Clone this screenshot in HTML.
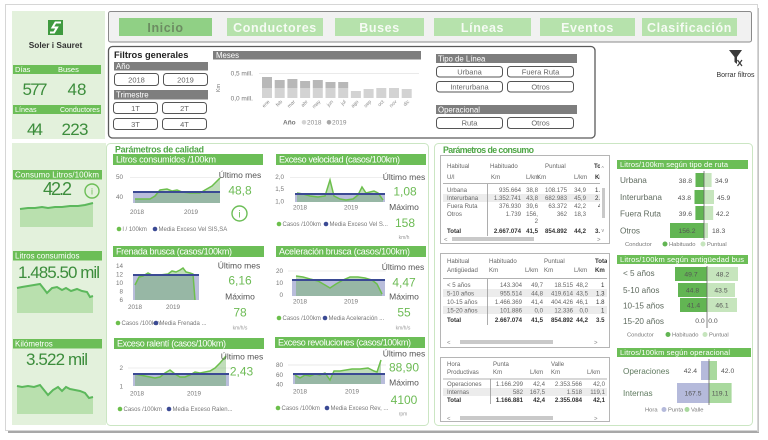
<!DOCTYPE html>
<html><head><meta charset="utf-8"><style>html,body{margin:0;padding:0;background:#fff}svg{display:block}</style></head>
<body>
<svg width="768" height="440" viewBox="0 0 768 440" xmlns="http://www.w3.org/2000/svg" font-family="'Liberation Sans', Arial, sans-serif">
<rect width="768" height="440" fill="#fff"/>
<!-- outer frame -->
<rect x="8" y="430" width="751" height="3" fill="#a8a8a8"/>
<rect x="757" y="8" width="2" height="424" fill="#c4c4c4"/>
<rect x="5.5" y="4.5" width="752" height="426" fill="#fff" stroke="#d6d6d6"/>

<!-- left top panel -->
<rect x="12" y="11" width="93" height="128" fill="#e3f1dc"/>
<rect x="48" y="20" width="15" height="15" fill="#3f9a3f"/>
<path d="M61,22.5 H55.5 L52.5,27.5 H57 L54,32.5 H50" fill="none" stroke="#fff" stroke-width="2"/>
<text x="55.5" y="48" font-size="8.3" font-weight="bold" fill="#333" text-anchor="middle">Soler i Sauret</text>
<rect x="13" y="65" width="88" height="9" fill="#6cbe57"/>
<text x="15" y="72" font-size="7.5" fill="#fff">Días</text>
<text x="58" y="72" font-size="7.5" fill="#fff">Buses</text>
<text x="35" y="95" font-size="17" fill="#3c8d3c" text-anchor="middle" textLength="25">577</text>
<text x="77" y="95" font-size="17" fill="#3c8d3c" text-anchor="middle" textLength="19">48</text>
<rect x="13" y="105" width="88" height="9" fill="#6cbe57"/>
<text x="15" y="112" font-size="7.2" fill="#fff">Líneas</text>
<text x="60" y="112" font-size="7" fill="#fff">Conductores</text>
<text x="35" y="135" font-size="17" fill="#3c8d3c" text-anchor="middle" textLength="16">44</text>
<text x="75" y="135" font-size="17" fill="#3c8d3c" text-anchor="middle" textLength="27">223</text>

<!-- nav -->
<rect x="108.5" y="11.5" width="643" height="30.5" rx="2" fill="#f1f1f1" stroke="#8a8a8a"/>
<g font-size="12.5" font-weight="bold" text-anchor="middle" letter-spacing="0.6">
<rect x="119" y="18" width="93" height="18" fill="#90d085"/>
<text x="165.5" y="32" fill="#6c8c62">Inicio</text>
<rect x="227" y="18" width="96" height="18" fill="#b6e2ac"/>
<text x="275" y="32" fill="#f6fbf4">Conductores</text>
<rect x="335" y="18" width="89" height="18" fill="#b6e2ac"/>
<text x="379.5" y="32" fill="#f6fbf4">Buses</text>
<rect x="434" y="18" width="97" height="18" fill="#b6e2ac"/>
<text x="482.5" y="32" fill="#f6fbf4">Líneas</text>
<rect x="540" y="18" width="95" height="18" fill="#b6e2ac"/>
<text x="587.5" y="32" fill="#f6fbf4">Eventos</text>
<rect x="642" y="18" width="95" height="18" fill="#b6e2ac"/>
<text x="689.5" y="32" fill="#f6fbf4">Clasificación</text>
</g>

<!-- filters box -->
<rect x="108.5" y="46.5" width="486.5" height="91.5" rx="4" fill="#fff" stroke="#5a5a5a" stroke-width="1.3"/>
<text x="114" y="58" font-size="9.3" font-weight="bold" fill="#222">Filtros generales</text>
<rect x="114" y="62" width="94" height="8.5" fill="#7e7e7e"/>
<text x="116" y="69" font-size="7.8" fill="#fff">Año</text>
<g fill="#fff" stroke="#555" stroke-width="1">
<rect x="114.5" y="73.5" width="44" height="12" rx="3"/>
<rect x="163.5" y="73.5" width="44" height="12" rx="3"/>
<rect x="113.5" y="102.5" width="44" height="11" rx="3"/>
<rect x="162.5" y="102.5" width="44" height="11" rx="3"/>
<rect x="113.5" y="118.5" width="44" height="11" rx="3"/>
<rect x="162.5" y="118.5" width="44" height="11" rx="3"/>
</g>
<rect x="114" y="90" width="94" height="9.5" fill="#7e7e7e"/>
<text x="116" y="97.5" font-size="7.8" fill="#fff">Trimestre</text>
<g font-size="7.5" fill="#666" text-anchor="middle">
<text x="136.5" y="82.5">2018</text><text x="185.5" y="82.5">2019</text>
<text x="135.5" y="111">1T</text><text x="184.5" y="111">2T</text>
<text x="135.5" y="127">3T</text><text x="184.5" y="127">4T</text>
</g>
<!-- meses chart -->
<rect x="213" y="51" width="208" height="8.5" fill="#7e7e7e"/>
<text x="216" y="58" font-size="7.8" fill="#fff">Meses</text>
<text x="253" y="75.5" font-size="6.5" fill="#777" text-anchor="end">0,5 mill.</text>
<text x="253" y="100.5" font-size="6.5" fill="#777" text-anchor="end">0,0 mill.</text>
<text x="220" y="88" font-size="5.5" fill="#777" transform="rotate(-90 220 88)" text-anchor="middle">Km</text>
<line x1="259" y1="73.5" x2="419" y2="73.5" stroke="#eaeaea"/>
<g>
<rect x="262" y="77" width="10" height="11" fill="#b8b8b8"/><rect x="262" y="88" width="10" height="10" fill="#d3d3d3"/>
<rect x="274.7" y="80" width="10" height="8" fill="#b8b8b8"/><rect x="274.7" y="88" width="10" height="10" fill="#d3d3d3"/>
<rect x="287.4" y="79" width="10" height="9" fill="#b8b8b8"/><rect x="287.4" y="88" width="10" height="10" fill="#d3d3d3"/>
<rect x="300.1" y="81" width="10" height="7" fill="#b8b8b8"/><rect x="300.1" y="88" width="10" height="10" fill="#d3d3d3"/>
<rect x="312.8" y="80" width="10" height="8" fill="#b8b8b8"/><rect x="312.8" y="88" width="10" height="10" fill="#d3d3d3"/>
<rect x="325.5" y="82" width="10" height="6" fill="#b8b8b8"/><rect x="325.5" y="88" width="10" height="10" fill="#d3d3d3"/>
<rect x="338.2" y="82" width="10" height="6" fill="#b8b8b8"/><rect x="338.2" y="88" width="10" height="10" fill="#d3d3d3"/>
<rect x="350.9" y="91" width="10" height="7" fill="#d3d3d3"/>
<rect x="363.6" y="89" width="10" height="9" fill="#d3d3d3"/>
<rect x="376.3" y="88" width="10" height="10" fill="#d3d3d3"/>
<rect x="389" y="88" width="10" height="10" fill="#d3d3d3"/>
<rect x="401.7" y="89" width="10" height="9" fill="#d3d3d3"/>
</g>
<g font-size="5" fill="#888" text-anchor="end">
<text transform="translate(270,102) rotate(-45)">ene</text>
<text transform="translate(282.7,102) rotate(-45)">feb</text>
<text transform="translate(295.4,102) rotate(-45)">mar</text>
<text transform="translate(308.1,102) rotate(-45)">abr</text>
<text transform="translate(320.8,102) rotate(-45)">may</text>
<text transform="translate(333.5,102) rotate(-45)">jun</text>
<text transform="translate(346.2,102) rotate(-45)">jul</text>
<text transform="translate(358.9,102) rotate(-45)">ago</text>
<text transform="translate(371.6,102) rotate(-45)">sep</text>
<text transform="translate(384.3,102) rotate(-45)">oct</text>
<text transform="translate(397,102) rotate(-45)">nov</text>
<text transform="translate(409.7,102) rotate(-45)">dic</text>
</g>
<text x="283" y="124.5" font-size="6.5" font-weight="bold" fill="#777">Año</text>
<circle cx="304" cy="122.3" r="2.3" fill="#d3d3d3"/>
<text x="307" y="124.5" font-size="6.5" fill="#888">2018</text>
<circle cx="329" cy="122.3" r="2.3" fill="#a8a8a8"/>
<text x="332" y="124.5" font-size="6.5" fill="#888">2019</text>

<!-- tipo de línea -->
<rect x="436" y="54" width="141" height="9" fill="#7e7e7e"/>
<text x="438" y="61.3" font-size="7.8" fill="#fff">Tipo de Línea</text>
<g fill="#fff" stroke="#555" stroke-width="1">
<rect x="436.5" y="66.5" width="66" height="10.5" rx="3"/>
<rect x="507.5" y="66.5" width="66" height="10.5" rx="3"/>
<rect x="436.5" y="81.5" width="66" height="10.5" rx="3"/>
<rect x="507.5" y="81.5" width="66" height="10.5" rx="3"/>
<rect x="436.5" y="117.5" width="66" height="11" rx="3"/>
<rect x="507.5" y="117.5" width="66" height="11" rx="3"/>
</g>
<rect x="436" y="105" width="141" height="9" fill="#7e7e7e"/>
<text x="438" y="112.3" font-size="7.8" fill="#fff">Operacional</text>
<g font-size="7.5" fill="#666" text-anchor="middle">
<text x="469.5" y="74.5">Urbana</text><text x="540.5" y="74.5">Fuera Ruta</text>
<text x="469.5" y="89.5">Interurbana</text><text x="540.5" y="89.5">Otros</text>
<text x="469.5" y="125.5">Ruta</text><text x="540.5" y="125.5">Otros</text>
</g>

<!-- borrar filtros -->
<path d="M729,50 H742 L737,57 V64 L734.5,62 V57 Z" fill="#3a3a3a"/>
<path d="M737.5,60 L742,66 M742,60 L737.5,66" stroke="#3a3a3a" stroke-width="1.2"/>
<text x="735.5" y="77" font-size="7" fill="#333" text-anchor="middle">Borrar filtros</text>

<!-- left bottom panel -->
<rect x="12" y="143" width="94" height="282" fill="#e3f1dc"/>
<rect x="13" y="170" width="89" height="9.5" fill="#6cbe57"/>
<text x="15" y="177.6" font-size="8" fill="#fff" textLength="84">Consumo Litros/100km</text>
<text x="57.5" y="195" font-size="18" fill="#3c8d3c" text-anchor="middle" textLength="29">42.2</text>
<circle cx="92" cy="191" r="7" fill="none" stroke="#6cbe57" stroke-width="1.4"/>
<text x="92" y="194.5" font-size="9" fill="#6cbe57" text-anchor="middle">i</text>
<path d="M20,227 L20,209 L28,208 L35,208 L42,207 L48,208 L55,207 L62,207 L70,206 L78,206 L85,205 L93,203 L93,227 Z" fill="#b9e0ae"/>
<polyline points="20,209 28,208 35,208 42,207 48,208 55,207 62,207 70,206 78,206 85,205 93,203" fill="none" stroke="#5cb85c" stroke-width="2"/>

<rect x="13" y="251" width="89" height="9.5" fill="#6cbe57"/>
<text x="15" y="258.6" font-size="8" fill="#fff">Litros consumidos</text>
<text x="18" y="278" font-size="17" fill="#3c8d3c" textLength="82">1.485.50 mil</text>
<path d="M17,313 L17,288 L22,287 L28,286 L34,285 L40,284 L44,289 L47,293 L52,288 L57,287 L62,290 L66,288 L71,291 L77,289 L82,291 L87,292 L90,297 L93,296 L93,313 Z" fill="#b9e0ae"/>
<polyline points="17,288 22,287 28,286 34,285 40,284 44,289 47,293 52,288 57,287 62,290 66,288 71,291 77,289 82,291 87,292 90,297 93,296" fill="none" stroke="#5cb85c" stroke-width="2"/>

<rect x="13" y="339" width="89" height="9.5" fill="#6cbe57"/>
<text x="15" y="346.6" font-size="8" fill="#fff">Kilómetros</text>
<text x="26" y="365" font-size="17" fill="#3c8d3c" textLength="62">3.522 mil</text>
<path d="M17,414 L17,386 L22,387 L28,386 L34,387 L40,385 L44,390 L48,395 L53,390 L58,387 L62,391 L66,387 L70,389 L75,390 L80,391 L85,393 L89,398 L93,397 L93,414 Z" fill="#b9e0ae"/>
<polyline points="17,386 22,387 28,386 34,387 40,385 44,390 48,395 53,390 58,387 62,391 66,387 70,389 75,390 80,391 85,393 89,398 93,397" fill="none" stroke="#5cb85c" stroke-width="2"/>

<!-- calidad panel -->
<rect x="106.5" y="143.5" width="322" height="282" rx="4" fill="#fff" stroke="#cbe6c3"/>
<text x="115" y="152.5" font-size="8.8" font-weight="bold" fill="#4fa646" textLength="89">Parámetros de calidad</text>

<g font-size="6.3" fill="#777">
<!-- chart1 -->
<rect x="113" y="154" width="150" height="11" fill="#6cbe57"/>
<text x="116" y="162.7" font-size="9" fill="#fff" textLength="100">Litros consumidos /100km</text>
<text x="123" y="179" text-anchor="end">50</text>
<text x="123" y="199" text-anchor="end">40</text>
<line x1="130" y1="177.5" x2="222" y2="177.5" stroke="#eee"/>
<rect x="133" y="192" width="87" height="11" fill="#b9bddb"/>
<path d="M135,203 L135,199 L150,199 L155,196 L160,190 L167,189 L172,191 L177,190 L182,192 L190,193 L200,193 L205,190 L212,186 L220,178 L220,203 Z" fill="#6aaf5a" fill-opacity="0.42"/>
<polyline points="135,199 150,199 155,196 160,190 167,189 172,191 177,190 182,192 190,193 200,193 205,190 212,186 220,178" fill="none" stroke="#6cbf4c" stroke-width="1.5"/>
<line x1="133" y1="192" x2="220" y2="192" stroke="#3b4a94" stroke-width="2"/>
<text x="137" y="214" text-anchor="middle">2018</text>
<text x="191" y="214" text-anchor="middle">2019</text>
<text x="240" y="178" font-size="8.5" fill="#555" text-anchor="middle">Último mes</text>
<text x="240" y="194.5" font-size="12" fill="#6dbb55" text-anchor="middle">48,8</text>
<circle cx="239.5" cy="213.5" r="7.5" fill="none" stroke="#6cbe57" stroke-width="1.4"/>
<text x="239.5" y="217.5" font-size="10" fill="#6cbe57" text-anchor="middle">i</text>
<circle cx="119" cy="229" r="2.3" fill="#6cbf4c"/>
<text x="122.5" y="231" font-size="6">l / 100km</text>
<circle cx="155" cy="229" r="2.3" fill="#3b4a94"/>
<text x="158.5" y="231" font-size="6">Media Exceso Vel SIS,SA</text>

<!-- chart2 -->
<rect x="276" y="154" width="150" height="11" fill="#6cbe57"/>
<text x="279" y="162.7" font-size="9" fill="#fff" textLength="121">Exceso velocidad (casos/100km)</text>
<text x="284" y="179" text-anchor="end">2,0</text>
<text x="284" y="191" text-anchor="end">1,5</text>
<text x="284" y="203.5" text-anchor="end">1,0</text>
<line x1="290" y1="177.5" x2="386" y2="177.5" stroke="#eee"/>
<rect x="295" y="194" width="90" height="8" fill="#b9bddb"/>
<path d="M297,202 L297,193 L303,194 L310,196 L318,197 L325,196 L330,180 L334,196 L340,199 L346,200 L353,199 L358,195 L362,187 L366,193 L370,192 L374,191 L378,193 L383,200 L383,202 Z" fill="#6aaf5a" fill-opacity="0.42"/>
<polyline points="297,193 303,194 310,196 318,197 325,196 330,180 334,196 340,199 346,200 353,199 358,195 362,187 366,193 370,192 374,191 378,193 383,200" fill="none" stroke="#6cbf4c" stroke-width="1.5"/>
<line x1="295" y1="194" x2="385" y2="194" stroke="#3b4a94" stroke-width="2"/>
<text x="300" y="209.5" text-anchor="middle">2018</text>
<text x="351" y="209.5" text-anchor="middle">2019</text>
<text x="404" y="180" font-size="8.5" fill="#555" text-anchor="middle">Último mes</text>
<text x="405" y="195.5" font-size="12" fill="#6dbb55" text-anchor="middle">1,08</text>
<text x="404" y="210" font-size="8.5" fill="#555" text-anchor="middle">Máximo</text>
<text x="405" y="227" font-size="12" fill="#6dbb55" text-anchor="middle">158</text>
<text x="404" y="239" font-size="5" fill="#999" text-anchor="middle">km/h</text>
<circle cx="279" cy="224" r="2.3" fill="#6cbf4c"/>
<text x="282.5" y="226" font-size="6">Casos /100km</text>
<circle cx="326" cy="224" r="2.3" fill="#3b4a94"/>
<text x="329.5" y="226" font-size="6">Media Exceso Vel S...</text>

<!-- chart3 -->
<rect x="113" y="246" width="151" height="11" fill="#6cbe57"/>
<text x="116" y="254.7" font-size="9" fill="#fff" textLength="116">Frenada brusca (casos/100km)</text>
<text x="123" y="268" text-anchor="end">14</text>
<text x="123" y="276.5" text-anchor="end">12</text>
<text x="123" y="285" text-anchor="end">10</text>
<text x="123" y="293.5" text-anchor="end">8</text>
<text x="123" y="302" text-anchor="end">6</text>
<rect x="133" y="275" width="66" height="25" fill="#b9bddb"/>
<path d="M135,300 L135,285 L139,277 L143,276 L148,273 L152,275 L160,275 L168,274 L172,271 L176,272 L180,270 L183,268 L186,272 L190,273 L193,274 L195,300 Z" fill="#6aaf5a" fill-opacity="0.42"/>
<polyline points="135,285 139,277 143,276 148,273 152,275 160,275 168,274 172,271 176,272 180,270 183,268 186,272 190,273 193,274 195,300" fill="none" stroke="#6cbf4c" stroke-width="1.5"/>
<line x1="133" y1="275" x2="199" y2="275" stroke="#3b4a94" stroke-width="2"/>
<text x="135" y="309" text-anchor="middle">2018</text>
<text x="173" y="309" text-anchor="middle">2019</text>
<text x="239" y="268.5" font-size="8.5" fill="#555" text-anchor="middle">Último mes</text>
<text x="240" y="284.5" font-size="12" fill="#6dbb55" text-anchor="middle">6,16</text>
<text x="240" y="299.5" font-size="8.5" fill="#555" text-anchor="middle">Máximo</text>
<text x="240" y="316.5" font-size="12" fill="#6dbb55" text-anchor="middle">78</text>
<text x="240" y="329.5" font-size="5" fill="#999" text-anchor="middle">km/h/s</text>
<circle cx="118" cy="323" r="2.3" fill="#6cbf4c"/>
<text x="121.5" y="325" font-size="6">Casos /100km</text>
<circle cx="156" cy="323" r="2.3" fill="#3b4a94"/>
<text x="159.5" y="325" font-size="6">Media Frenada ...</text>

<!-- chart4 -->
<rect x="276" y="246" width="150" height="11" fill="#6cbe57"/>
<text x="279" y="254.7" font-size="9" fill="#fff" textLength="131">Aceleración brusca (casos/100km)</text>
<text x="283" y="273" text-anchor="end">20</text>
<text x="283" y="285" text-anchor="end">10</text>
<text x="283" y="297" text-anchor="end">0</text>
<line x1="288" y1="271" x2="386" y2="271" stroke="#eee"/>
<rect x="292" y="280" width="93" height="16" fill="#b9bddb"/>
<path d="M296,296 L296,276 L303,277 L310,279 L318,281 L325,285 L330,288 L336,284 L343,280 L350,277 L358,277 L365,278 L372,280 L377,284 L382,294 L382,296 Z" fill="#6aaf5a" fill-opacity="0.42"/>
<polyline points="296,276 303,277 310,279 318,281 325,285 330,288 336,284 343,280 350,277 358,277 365,278 372,280 377,284 382,294" fill="none" stroke="#6cbf4c" stroke-width="1.5"/>
<line x1="292" y1="280" x2="385" y2="280" stroke="#3b4a94" stroke-width="2"/>
<text x="300" y="303.5" text-anchor="middle">2018</text>
<text x="351" y="303.5" text-anchor="middle">2019</text>
<text x="403" y="270" font-size="8.5" fill="#555" text-anchor="middle">Último mes</text>
<text x="404" y="286.5" font-size="12" fill="#6dbb55" text-anchor="middle">4,47</text>
<text x="404" y="299.5" font-size="8.5" fill="#555" text-anchor="middle">Máximo</text>
<text x="404" y="316.5" font-size="12" fill="#6dbb55" text-anchor="middle">55</text>
<text x="403" y="329.5" font-size="5" fill="#999" text-anchor="middle">km/h/s</text>
<circle cx="279" cy="318" r="2.3" fill="#6cbf4c"/>
<text x="282.5" y="320" font-size="6">Casos /100km</text>
<circle cx="325" cy="318" r="2.3" fill="#3b4a94"/>
<text x="328.5" y="320" font-size="6">Media Aceleración ...</text>

<!-- chart5 -->
<rect x="114" y="338" width="150" height="11" fill="#6cbe57"/>
<text x="117" y="346.7" font-size="9" fill="#fff" textLength="109">Exceso ralentí (casos/100km)</text>
<text x="123" y="370" text-anchor="end">2</text>
<text x="123" y="388.5" text-anchor="end">1</text>
<line x1="128" y1="368" x2="232" y2="368" stroke="#eee"/>
<rect x="133" y="374" width="96" height="12" fill="#b9bddb"/>
<path d="M135,386 L135,374 L140,375 L145,376 L150,377 L155,378 L160,377 L165,373 L170,370 L175,374 L180,377 L185,377 L190,375 L195,372 L200,373 L205,372 L210,371 L215,368 L220,363 L226,356 L226,386 Z" fill="#6aaf5a" fill-opacity="0.42"/>
<polyline points="135,374 140,375 145,376 150,377 155,378 160,377 165,373 170,370 175,374 180,377 185,377 190,375 195,372 200,373 205,372 210,371 215,368 220,363 226,356" fill="none" stroke="#6cbf4c" stroke-width="1.5"/>
<line x1="133" y1="374" x2="229" y2="374" stroke="#3b4a94" stroke-width="2"/>
<text x="137" y="395.5" text-anchor="middle">2018</text>
<text x="194" y="395.5" text-anchor="middle">2019</text>
<text x="242" y="359.5" font-size="8.5" fill="#555" text-anchor="middle">Último mes</text>
<text x="241.5" y="375.5" font-size="12" fill="#6dbb55" text-anchor="middle">2,43</text>
<circle cx="120" cy="409" r="2.3" fill="#6cbf4c"/>
<text x="123.5" y="411" font-size="6">Casos /100km</text>
<circle cx="169" cy="409" r="2.3" fill="#3b4a94"/>
<text x="172.5" y="411" font-size="6">Media Exceso Ralen...</text>

<!-- chart6 -->
<rect x="275" y="337" width="150" height="11" fill="#6cbe57"/>
<text x="278" y="345.7" font-size="9" fill="#fff" textLength="133">Exceso revoluciones (casos/100km)</text>
<text x="283" y="367" text-anchor="end">80</text>
<text x="283" y="377" text-anchor="end">60</text>
<text x="283" y="386.5" text-anchor="end">40</text>
<line x1="288" y1="365" x2="386" y2="365" stroke="#e8e8e8"/>
<rect x="293" y="374" width="92" height="10" fill="#b9bddb"/>
<path d="M295,384 L295,375 L300,378 L305,375 L310,376 L315,374 L320,375 L325,373 L330,380 L334,371 L340,371 L346,370 L352,369 L360,369 L368,368 L374,371 L377,372 L381,360 L381,384 Z" fill="#6aaf5a" fill-opacity="0.42"/>
<polyline points="295,375 300,378 305,375 310,376 315,374 320,375 325,373 330,380 334,371 340,371 346,370 352,369 360,369 368,368 374,371 377,372 381,360" fill="none" stroke="#6cbf4c" stroke-width="1.5"/>
<line x1="293" y1="374" x2="385" y2="374" stroke="#3b4a94" stroke-width="2"/>
<text x="300" y="393.5" text-anchor="middle">2018</text>
<text x="352" y="393.5" text-anchor="middle">2019</text>
<text x="404" y="356.5" font-size="8.5" fill="#555" text-anchor="middle">Último mes</text>
<text x="404" y="371.5" font-size="12" fill="#6dbb55" text-anchor="middle">88,90</text>
<text x="404" y="385.5" font-size="8.5" fill="#555" text-anchor="middle">Máximo</text>
<text x="404" y="404" font-size="12" fill="#6dbb55" text-anchor="middle">4100</text>
<text x="403" y="415.5" font-size="5" fill="#999" text-anchor="middle">rpm</text>
<circle cx="278" cy="408" r="2.3" fill="#6cbf4c"/>
<text x="281.5" y="410" font-size="6">Casos /100km</text>
<circle cx="327" cy="408" r="2.3" fill="#3b4a94"/>
<text x="330.5" y="410" font-size="6">Media Exceso Rev, ...</text>
</g>

<!-- consumo panel -->
<rect x="434.5" y="143.5" width="318" height="282" rx="4" fill="#fff" stroke="#cbe6c3"/>
<text x="443" y="153" font-size="8.8" font-weight="bold" fill="#4fa646" textLength="91">Parámetros de consumo</text>

<defs>
<clipPath id="c1"><rect x="441" y="156" width="159" height="86"/></clipPath>
<clipPath id="c2"><rect x="441" y="254" width="166" height="92"/></clipPath>
<clipPath id="c3"><rect x="441" y="358" width="166" height="63"/></clipPath>
</defs>

<!-- table 1 -->
<rect x="440.5" y="155.5" width="169" height="88" fill="#fff" stroke="#b5b5b5"/>
<rect x="443" y="194" width="157" height="8" fill="#ececec"/>
<g clip-path="url(#c1)" font-size="6.1" fill="#666">
<text x="447" y="168">Habitual</text><text x="490" y="168">Habituado</text><text x="545" y="168">Puntual</text><text x="594" y="168" font-weight="bold" fill="#333">To</text>
<text x="447" y="179">U/l</text><text x="491" y="179">Km</text><text x="526" y="179">L/km</text><text x="537" y="179">Km</text><text x="574" y="179">L/km</text><text x="595" y="179" font-weight="bold" fill="#333">Km</text>
<g text-anchor="end">
<text x="521" y="192">935.664</text><text x="538" y="192">38,8</text><text x="567" y="192">108.175</text><text x="586" y="192">34,9</text>
<text x="521" y="200">1.352.741</text><text x="538" y="200">43,8</text><text x="567" y="200">682.983</text><text x="586" y="200">45,9</text>
<text x="521" y="208">376.930</text><text x="538" y="208">39,6</text><text x="567" y="208">63.372</text><text x="586" y="208">42,2</text>
<text x="521" y="216">1.739</text><text x="538" y="216">156,</text><text x="567" y="216">362</text><text x="586" y="216">18,3</text>
<text x="538" y="223">2</text>
</g>
<text x="447" y="192">Urbana</text><text x="447" y="200">Interurbana</text><text x="447" y="208">Fuera Ruta</text><text x="447" y="216">Otros</text>
<text x="595" y="192" fill="#333">1.4</text><text x="595" y="200" fill="#333">2.4</text><text x="598" y="208" fill="#333">4</text>
<g font-weight="bold" fill="#333">
<text x="447" y="233">Total</text>
<g text-anchor="end"><text x="521" y="233">2.667.074</text><text x="538" y="233">41,5</text><text x="567" y="233">854.892</text><text x="586" y="233">44,2</text></g>
<text x="595" y="233">3.</text>
</g>
</g>
<line x1="443" y1="183.5" x2="600" y2="183.5" stroke="#999" stroke-width="0.8"/>
<line x1="487.5" y1="184" x2="487.5" y2="236" stroke="#999" stroke-width="0.8"/>
<rect x="452" y="237" width="82" height="4" fill="#c9c9c9"/>
<text x="444" y="241.5" font-size="6" fill="#888">&lt;</text><text x="597" y="241.5" font-size="6" fill="#888">&gt;</text>
<rect x="602" y="188" width="3" height="30" fill="#c9c9c9"/>
<text x="601.5" y="170" font-size="5" fill="#888">^</text><text x="601.5" y="232" font-size="5" fill="#888">v</text>

<!-- table 2 -->
<rect x="440.5" y="253.5" width="169" height="94" fill="#fff" stroke="#b5b5b5"/>
<rect x="443" y="289" width="164" height="8" fill="#ececec"/>
<rect x="443" y="306" width="164" height="8" fill="#ececec"/>
<g clip-path="url(#c2)" font-size="6.1" fill="#666">
<text x="447" y="263">Habitual</text><text x="489" y="263">Habituado</text><text x="544" y="263">Puntual</text><text x="595" y="263" font-weight="bold" fill="#333">Total</text>
<text x="447" y="272">Antigüedad</text><text x="489" y="272">Km</text><text x="525" y="272">L/km</text><text x="544" y="272">Km</text><text x="574" y="272">L/km</text><text x="595" y="272" font-weight="bold" fill="#333">Km</text>
<text x="447" y="287">&lt; 5 años</text><text x="447" y="295.5">5-10 años</text><text x="447" y="304">10-15 años</text><text x="447" y="312.5">15-20 años</text>
<g text-anchor="end">
<text x="522" y="287">143.304</text><text x="543" y="287">49,7</text><text x="573" y="287">18.515</text><text x="588" y="287">48,2</text>
<text x="522" y="295.5">955.514</text><text x="543" y="295.5">44,8</text><text x="573" y="295.5">419.614</text><text x="588" y="295.5">43,5</text>
<text x="522" y="304">1.466.369</text><text x="543" y="304">41,4</text><text x="573" y="304">404.426</text><text x="588" y="304">46,1</text>
<text x="522" y="312.5">101.886</text><text x="543" y="312.5">0,0</text><text x="573" y="312.5">12.336</text><text x="588" y="312.5">0,0</text>
</g>
<text x="601" y="287" fill="#333">1</text><text x="596" y="295.5" fill="#333">1.3</text><text x="596" y="304" fill="#333">1.8</text><text x="601" y="312.5" fill="#333">1</text>
<g font-weight="bold" fill="#333">
<text x="447" y="322">Total</text>
<g text-anchor="end"><text x="522" y="322">2.667.074</text><text x="543" y="322">41,5</text><text x="573" y="322">854.892</text><text x="588" y="322">44,2</text></g>
<text x="596" y="322">3.5</text>
</g>
</g>
<line x1="443" y1="278.5" x2="607" y2="278.5" stroke="#999" stroke-width="0.8"/>
<line x1="487.5" y1="279" x2="487.5" y2="325" stroke="#999" stroke-width="0.8"/>
<rect x="460" y="340" width="93" height="4" fill="#c9c9c9"/>
<text x="447" y="344.5" font-size="6" fill="#888">&lt;</text><text x="594" y="344.5" font-size="6" fill="#888">&gt;</text>

<!-- table 3 -->
<rect x="440.5" y="357.5" width="169" height="64" fill="#fff" stroke="#b5b5b5"/>
<rect x="443" y="388" width="164" height="8" fill="#ececec"/>
<g clip-path="url(#c3)" font-size="6.1" fill="#666">
<text x="447" y="366">Hora</text><text x="493" y="366">Punta</text><text x="551" y="366">Valle</text>
<text x="447" y="374">Productivas</text><text x="493" y="374">Km</text><text x="530" y="374">L/km</text><text x="551" y="374">Km</text><text x="587" y="374">L/km</text>
<text x="447" y="386">Operaciones</text><text x="447" y="394">Internas</text>
<g text-anchor="end">
<text x="523" y="386">1.166.299</text><text x="545" y="386">42,4</text><text x="582" y="386">2.353.566</text><text x="605" y="386">42,0</text>
<text x="523" y="394">582</text><text x="545" y="394">167,5</text><text x="582" y="394">1.518</text><text x="605" y="394">119,1</text>
</g>
<g font-weight="bold" fill="#333">
<text x="447" y="402">Total</text>
<g text-anchor="end"><text x="523" y="402">1.166.881</text><text x="545" y="402">42,4</text><text x="582" y="402">2.355.084</text><text x="605" y="402">42,1</text></g>
</g>
</g>
<line x1="443" y1="379" x2="607" y2="379" stroke="#999" stroke-width="0.8"/>
<line x1="490.5" y1="379" x2="490.5" y2="404" stroke="#999" stroke-width="0.8"/>
<rect x="460" y="416" width="93" height="4" fill="#c9c9c9"/>
<text x="447" y="420.5" font-size="6" fill="#888">&lt;</text><text x="594" y="420.5" font-size="6" fill="#888">&gt;</text>

<!-- right chart A -->
<rect x="617" y="160" width="131" height="9" fill="#6cbe57"/>
<text x="620" y="167" font-size="7.5" fill="#fff" textLength="108">Litros/100km según tipo de ruta</text>
<g font-size="8.2" fill="#5f6b5f">
<text x="620" y="183">Urbana</text><text x="620" y="200">Interurbana</text><text x="620" y="216.5">Fuera Ruta</text><text x="620" y="233.5">Otros</text>
</g>
<rect x="695.5" y="173" width="8.5" height="14" fill="#62b553"/><rect x="704" y="173" width="7.6" height="14" fill="#c6e5bd"/>
<rect x="694.5" y="190" width="9.5" height="14" fill="#62b553"/><rect x="704" y="190" width="10" height="14" fill="#c6e5bd"/>
<rect x="695.4" y="206" width="8.6" height="14" fill="#62b553"/><rect x="704" y="206" width="9.2" height="14" fill="#c6e5bd"/>
<rect x="670" y="223" width="34" height="15" fill="#62b553"/><rect x="704" y="223" width="4" height="15" fill="#c6e5bd"/>
<line x1="704" y1="171" x2="704" y2="240" stroke="#666" stroke-width="0.8"/>
<g font-size="6.8" fill="#555">
<text x="692" y="183" text-anchor="end">38.8</text><text x="715" y="183">34.9</text>
<text x="691" y="200" text-anchor="end">43.8</text><text x="717" y="200">45.9</text>
<text x="692" y="216" text-anchor="end">39.6</text><text x="716" y="216">42.2</text>
<text x="687" y="233" text-anchor="middle">156.2</text><text x="712" y="233">18.3</text>
</g>
<g font-size="5.8" fill="#777">
<text x="625" y="246">Conductor</text>
<circle cx="665" cy="244" r="2.5" fill="#62b553"/><text x="669" y="246">Habituado</text>
<circle cx="703" cy="244" r="2.5" fill="#c6e5bd"/><text x="707" y="246">Puntual</text>
</g>

<!-- right chart B -->
<rect x="617" y="255" width="131" height="9" fill="#6cbe57"/>
<text x="620" y="262" font-size="7.5" fill="#fff" textLength="124">Litros/100km según antigüedad bus</text>
<g font-size="8.2" fill="#5f6b5f">
<text x="623" y="276">&lt; 5 años</text><text x="623" y="293">5-10 años</text><text x="623" y="308.5">10-15 años</text><text x="623" y="324">15-20 años</text>
</g>
<rect x="675" y="267" width="32" height="14" fill="#62b553"/><rect x="707" y="267" width="31" height="14" fill="#c6e5bd"/>
<rect x="678" y="283" width="29" height="14" fill="#62b553"/><rect x="707" y="283" width="28" height="14" fill="#c6e5bd"/>
<rect x="680" y="298" width="27" height="14" fill="#62b553"/><rect x="707" y="298" width="30" height="14" fill="#c6e5bd"/>
<line x1="707" y1="266" x2="707" y2="328" stroke="#666" stroke-width="0.8"/>
<g font-size="6.8" fill="#555" text-anchor="middle">
<text x="691" y="276.5">49.7</text><text x="722.5" y="276.5">48.2</text>
<text x="692.5" y="292.5">44.8</text><text x="721" y="292.5">43.5</text>
<text x="693.5" y="307.5">41.4</text><text x="722" y="307.5">46.1</text>
<text x="700" y="323">0.0</text><text x="713" y="323">0.0</text>
</g>
<g font-size="5.8" fill="#777">
<text x="627" y="336.5">Conductor</text>
<circle cx="668" cy="334.5" r="2.5" fill="#62b553"/><text x="672" y="336.5">Habituado</text>
<circle cx="705" cy="334.5" r="2.5" fill="#c6e5bd"/><text x="709" y="336.5">Puntual</text>
</g>

<!-- right chart C -->
<rect x="617" y="348" width="134" height="9" fill="#6cbe57"/>
<text x="620" y="355" font-size="7.5" fill="#fff" textLength="110">Litros/100km según operacional</text>
<g font-size="8.2" fill="#5f7a5f">
<text x="623" y="374">Operaciones</text><text x="623" y="396">Internas</text>
</g>
<rect x="701" y="361" width="8" height="19" fill="#b5badb"/><rect x="709" y="361" width="8" height="19" fill="#a9d99e"/>
<rect x="677" y="383" width="32" height="20" fill="#b5badb"/><rect x="709" y="383" width="22.6" height="20" fill="#a9d99e"/>
<line x1="709" y1="359" x2="709" y2="405" stroke="#666" stroke-width="0.8"/>
<g font-size="6.8" fill="#555">
<text x="697" y="373" text-anchor="end">42.4</text><text x="721" y="373">42.0</text>
<text x="693" y="395.5" text-anchor="middle">167.5</text><text x="720" y="395.5" text-anchor="middle">119.1</text>
</g>
<g font-size="5.8" fill="#777">
<text x="645" y="411.5">Hora</text>
<circle cx="664" cy="409.5" r="2.5" fill="#b5badb"/><text x="668" y="411.5">Punta</text>
<circle cx="687" cy="409.5" r="2.5" fill="#a9d99e"/><text x="691" y="411.5">Valle</text>
</g>
</svg>
</body></html>
